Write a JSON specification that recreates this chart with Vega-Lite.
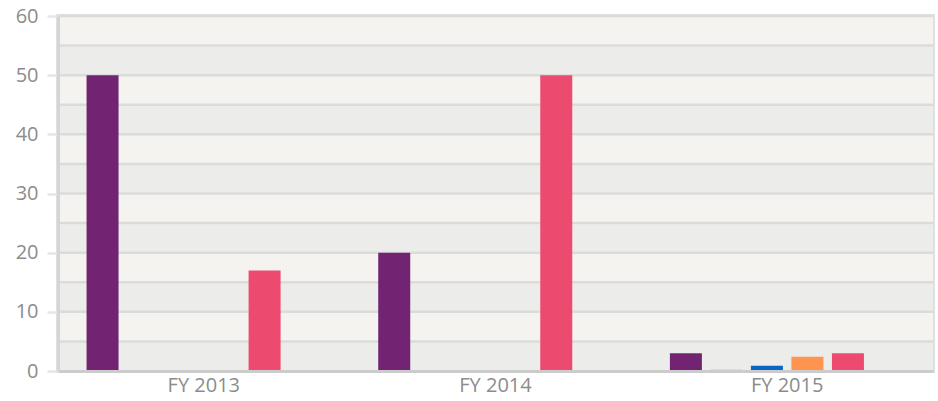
{
  "$schema": "https://vega.github.io/schema/vega-lite/v6.json",
  "width": 875,
  "height": 355,
  "autosize": {"type": "none"},
  "padding": {"left": 58, "top": 16, "right": 5, "bottom": 30},
  "config": {
    "view": {"stroke": "#e0e0e0", "strokeWidth": 4},
    "font": "Open Sans",
    "axis": {"labelFont": "Open Sans", "labelFontSize": 20, "labelFontWeight": "normal", "labelColor": "#8c8c8c"}
  },
  "datasets": {
    "bands": [
      {"lo": 0, "hi": 5, "shade": "cool"},
      {"lo": 5, "hi": 10, "shade": "warm"},
      {"lo": 10, "hi": 15, "shade": "cool"},
      {"lo": 15, "hi": 20, "shade": "warm"},
      {"lo": 20, "hi": 25, "shade": "cool"},
      {"lo": 25, "hi": 30, "shade": "warm"},
      {"lo": 30, "hi": 35, "shade": "cool"},
      {"lo": 35, "hi": 40, "shade": "warm"},
      {"lo": 40, "hi": 45, "shade": "cool"},
      {"lo": 45, "hi": 50, "shade": "warm"},
      {"lo": 50, "hi": 55, "shade": "cool"},
      {"lo": 55, "hi": 60, "shade": "warm"}
    ],
    "bars": [
      {"fy": "FY 2013", "series": "S1", "value": 50},
      {"fy": "FY 2013", "series": "S2", "value": 0},
      {"fy": "FY 2013", "series": "S3", "value": 0},
      {"fy": "FY 2013", "series": "S4", "value": 0},
      {"fy": "FY 2013", "series": "S5", "value": 17},
      {"fy": "FY 2013", "series": "S6", "value": 0},
      {"fy": "FY 2014", "series": "S1", "value": 20},
      {"fy": "FY 2014", "series": "S2", "value": 0},
      {"fy": "FY 2014", "series": "S3", "value": 0},
      {"fy": "FY 2014", "series": "S4", "value": 0},
      {"fy": "FY 2014", "series": "S5", "value": 50},
      {"fy": "FY 2014", "series": "S6", "value": 0},
      {"fy": "FY 2015", "series": "S1", "value": 3},
      {"fy": "FY 2015", "series": "S2", "value": 0.2},
      {"fy": "FY 2015", "series": "S3", "value": 0.9},
      {"fy": "FY 2015", "series": "S4", "value": 2.4},
      {"fy": "FY 2015", "series": "S5", "value": 3},
      {"fy": "FY 2015", "series": "S6", "value": 0}
    ]
  },
  "layer": [
    {
      "data": {"name": "bands"},
      "mark": {"type": "rect"},
      "encoding": {
        "y": {
          "field": "lo",
          "type": "quantitative",
          "scale": {"domain": [0, 60], "nice": false},
          "axis": {
            "title": null,
            "values": [0, 10, 20, 30, 40, 50, 60],
            "grid": false,
            "domainColor": "#d5d5d5",
            "domainWidth": 3,
            "tickColor": "#e6e6e6",
            "tickSize": 11,
            "tickWidth": 2.5,
            "labelPadding": 9,
            "zindex": 1
          }
        },
        "y2": {"field": "hi"},
        "color": {
          "field": "shade",
          "type": "nominal",
          "scale": {"domain": ["cool", "warm"], "range": ["#ecedea", "#f4f3ef"]},
          "legend": null
        }
      }
    },
    {
      "data": {"name": "bands"},
      "mark": {"type": "rule", "color": "#dbdbdb", "strokeWidth": 2.5},
      "encoding": {"y": {"field": "hi", "type": "quantitative"}}
    },
    {
      "data": {"name": "bars"},
      "mark": {"type": "bar"},
      "encoding": {
        "x": {
          "field": "fy",
          "type": "nominal",
          "scale": {"paddingInner": 0, "paddingOuter": 0},
          "axis": {
            "title": null,
            "labelAngle": 0,
            "ticks": false,
            "domainColor": "#cccccc",
            "domainWidth": 3,
            "labelPadding": 4,
            "zindex": 1
          }
        },
        "xOffset": {
          "field": "series",
          "type": "nominal",
          "scale": {"paddingInner": 0.21, "paddingOuter": 0.705}
        },
        "y": {"field": "value", "type": "quantitative"},
        "color": {
          "field": "series",
          "type": "nominal",
          "scale": {
            "domain": ["S1", "S2", "S3", "S4", "S5", "S6"],
            "range": ["#722473", "#7fc4c6", "#0866c6", "#ff9350", "#ed4a6f", "#999999"]
          },
          "legend": null
        }
      }
    }
  ],
  "resolve": {"scale": {"color": "independent"}}
}
